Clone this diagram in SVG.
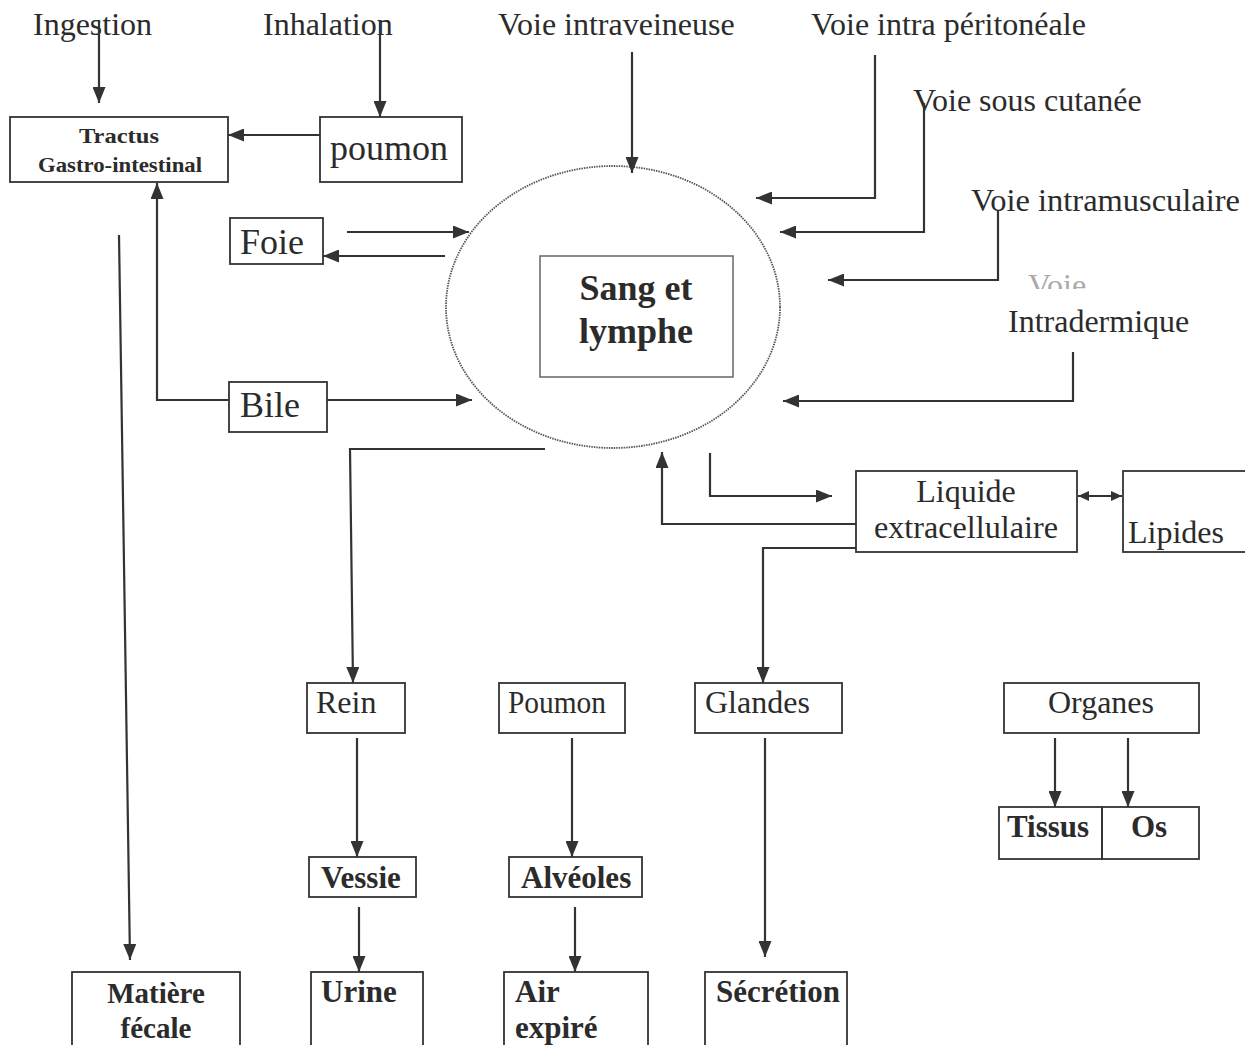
<svg xmlns="http://www.w3.org/2000/svg" width="1245" height="1045" viewBox="0 0 1245 1045">
<style>
  text { font-family: "Liberation Serif", "Times New Roman", serif; fill: #2b2b2b; }
  .r { font-size: 32px; }
  .b { font-size: 31px; font-weight: bold; }
  .big { font-size: 36px; }
  .small { font-size: 22px; font-weight: bold; }
  .box { fill: none; stroke: #333; stroke-width: 1.8; }
  .conn path { fill: none; stroke: #333; stroke-width: 2.2; }
  .arr { marker-end: url(#ah); }
</style>
<defs>
  <marker id="ah" markerUnits="userSpaceOnUse" markerWidth="16" markerHeight="13" refX="16" refY="6.5" orient="auto">
    <path d="M0,0 L16,6.5 L0,13 z" fill="#333"/>
  </marker>
  <marker id="ahs" markerUnits="userSpaceOnUse" markerWidth="11" markerHeight="10" refX="11" refY="5" orient="auto-start-reverse">
    <path d="M0,0 L11,5 L0,10 z" fill="#333"/>
  </marker>
  <clipPath id="voieclip"><rect x="1020" y="262" width="80" height="27"/></clipPath>
</defs>
<rect width="1245" height="1045" fill="#fff"/>

<g id="labels">
  <text class="r" x="33" y="35">Ingestion</text>
  <text class="r" x="263" y="35">Inhalation</text>
  <text class="r" x="498" y="35">Voie intraveineuse</text>
  <text class="r" x="811" y="35">Voie intra péritonéale</text>
  <text class="r" x="913" y="111">Voie sous cutanée</text>
  <text class="r" x="971" y="211" textLength="269" lengthAdjust="spacingAndGlyphs">Voie intramusculaire</text>
  <text class="r" x="1028" y="296" clip-path="url(#voieclip)" style="fill:#aaa">Voie</text>
  <text class="r" x="1008" y="332">Intradermique</text>
</g>

<g id="tractus">
  <rect class="box" x="10" y="117" width="218" height="65"/>
  <text class="small" x="119" y="143" text-anchor="middle" textLength="80" lengthAdjust="spacingAndGlyphs">Tractus</text>
  <text class="small" x="120" y="172" text-anchor="middle" textLength="164" lengthAdjust="spacingAndGlyphs">Gastro-intestinal</text>
</g>
<g id="poumon-top">
  <rect class="box" x="320" y="117" width="142" height="65"/>
  <text class="big" x="330" y="160">poumon</text>
</g>
<g id="foie">
  <rect class="box" x="230" y="218" width="93" height="46"/>
  <text class="big" x="240" y="254">Foie</text>
</g>
<g id="bile">
  <rect class="box" x="229" y="382" width="98" height="50"/>
  <text class="big" x="240" y="417">Bile</text>
</g>
<g id="sang">
  <ellipse cx="613" cy="307" rx="167" ry="141" fill="none" stroke="#555" stroke-width="1.8" stroke-dasharray="1.5 1"/>
  <rect x="540" y="256" width="193" height="121" fill="none" stroke="#666" stroke-width="1.5"/>
  <text class="b" x="636" y="300" text-anchor="middle" style="font-size:36px">Sang et</text>
  <text class="b" x="636" y="343" text-anchor="middle" style="font-size:36px">lymphe</text>
</g>
<g id="liquide">
  <rect class="box" x="856" y="471" width="221" height="81"/>
  <text class="r" x="966" y="502" text-anchor="middle">Liquide</text>
  <text class="r" x="966" y="538" text-anchor="middle" textLength="184" lengthAdjust="spacingAndGlyphs">extracellulaire</text>
</g>
<g id="lipides">
  <rect class="box" x="1123" y="471" width="130" height="81"/>
  <text class="r" x="1128" y="543">Lipides</text>
</g>
<g id="rein">
  <rect class="box" x="307" y="683" width="98" height="50"/>
  <text class="r" x="316" y="713">Rein</text>
</g>
<g id="poumon-bas">
  <rect class="box" x="499" y="683" width="126" height="50"/>
  <text class="r" x="508" y="713" textLength="98" lengthAdjust="spacingAndGlyphs">Poumon</text>
</g>
<g id="glandes">
  <rect class="box" x="695" y="683" width="147" height="50"/>
  <text class="r" x="705" y="713">Glandes</text>
</g>
<g id="organes">
  <rect class="box" x="1004" y="683" width="195" height="50"/>
  <text class="r" x="1101" y="713" text-anchor="middle">Organes</text>
</g>
<g id="vessie">
  <rect class="box" x="309" y="857" width="107" height="40"/>
  <text class="b" x="321" y="888">Vessie</text>
</g>
<g id="alveoles">
  <rect class="box" x="509" y="857" width="133" height="40"/>
  <text class="b" x="521" y="888">Alvéoles</text>
</g>
<g id="tissus">
  <rect class="box" x="999" y="807" width="103" height="52"/>
  <text class="b" x="1007" y="837">Tissus</text>
</g>
<g id="os">
  <rect class="box" x="1102" y="807" width="97" height="52"/>
  <text class="b" x="1131" y="837">Os</text>
</g>
<g id="matiere">
  <rect class="box" x="72" y="972" width="168" height="80"/>
  <text class="b" x="156" y="1003" text-anchor="middle" style="font-size:29px">Matière</text>
  <text class="b" x="156" y="1038" text-anchor="middle" style="font-size:29px">fécale</text>
</g>
<g id="urine">
  <rect class="box" x="311" y="972" width="112" height="80"/>
  <text class="b" x="321" y="1002">Urine</text>
</g>
<g id="air">
  <rect class="box" x="504" y="972" width="144" height="80"/>
  <text class="b" x="515" y="1002">Air</text>
  <text class="b" x="515" y="1038">expiré</text>
</g>
<g id="secretion">
  <rect class="box" x="705" y="972" width="142" height="80"/>
  <text class="b" x="716" y="1002">Sécrétion</text>
</g>

<g id="connectors" class="conn">
  <path class="arr" d="M99,20 V103"/>
  <path class="arr" d="M380,20 V117"/>
  <path class="arr" d="M320,135 H228"/>
  <path class="arr" d="M229,400 H157 V183"/>
  <path class="arr" d="M347,232 H469"/>
  <path class="arr" d="M445,256 H323"/>
  <path class="arr" d="M327,400 H472"/>
  <path class="arr" d="M632,52 V173"/>
  <path class="arr" d="M875,55 V198 H756"/>
  <path class="arr" d="M924,103 V232 H780"/>
  <path class="arr" d="M998,210 V280 H828"/>
  <path class="arr" d="M1073,352 V401 H783"/>
  <path class="arr" d="M545,449 H350 L353,683"/>
  <path class="arr" d="M856,524 H662 V452"/>
  <path class="arr" d="M710,453 V496 H832"/>
  <path class="arr" d="M856,548 H763 V683"/>
  <path d="M1078,496 H1122" style="marker-start:url(#ahs);marker-end:url(#ahs)"/>
  <path class="arr" d="M119,235 L130,960"/>
  <path class="arr" d="M357,738 V857"/>
  <path class="arr" d="M359,907 V972"/>
  <path class="arr" d="M572,738 V857"/>
  <path class="arr" d="M575,907 V972"/>
  <path class="arr" d="M765,738 V957"/>
  <path class="arr" d="M1055,738 V807"/>
  <path class="arr" d="M1128,738 V807"/>
</g>
</svg>
